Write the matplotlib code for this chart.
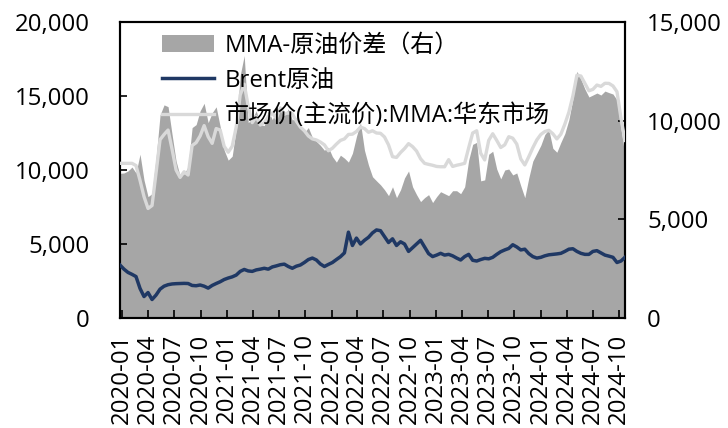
import matplotlib
matplotlib.use("Agg")
import matplotlib.pyplot as plt
import matplotlib.dates as mdates
from matplotlib.ticker import FuncFormatter, MultipleLocator
from matplotlib.patches import Patch
from matplotlib.lines import Line2D
import pandas as pd

plt.rcParams['font.family'] = ['Open Sans', 'Noto Sans CJK SC', 'DejaVu Sans']

# fortnightly observations, 2019-12-24 .. 2024-10-22
dates = pd.date_range('2019-12-24', periods=127, freq='14D')

# MMA - crude oil spread (right axis)
spread = [
    7330, 7350, 7450, 7650, 7350, 8300, 6990, 6150, 6300, 8100,
    10290, 10800, 10710, 9300, 7950, 7200, 7300, 7670, 9650, 9800,
    10500, 10880, 9900, 10400, 10700, 9700, 8500, 8000, 8200, 9600,
    12300, 13300, 9900, 10100, 10500, 9800, 9750, 10500, 10050, 10500,
    10750, 10250, 10600, 10030, 10150, 9700, 9400, 9650, 9150, 8950,
    8750, 8500, 8650, 8180, 7900, 8250, 8100, 7900, 8350, 9200,
    9900, 8500, 7750, 7160, 6950, 6750, 6500, 6200, 6650, 6100,
    6500, 7100, 7450, 6650, 6250, 5900, 6100, 6250, 5850, 6150,
    6400, 6300, 6200, 6450, 6450, 6300, 6650, 8000, 8800, 8900,
    6950, 7000, 8300, 8450, 7550, 7050, 7500, 7550, 7250, 7350,
    6700, 6100, 7100, 7950, 8350, 8750, 9300, 9550, 8600, 8400,
    8900, 9350, 10050, 11100, 12500, 12100, 11600, 11200, 11300, 11400,
    11300, 11500, 11420, 11350, 11050, 9600, 8200,
]

# Brent crude (left axis)
brent = [
    3580, 3300, 3080, 2950, 2800, 2000, 1450, 1720, 1250, 1550,
    1950, 2150, 2250, 2300, 2320, 2330, 2340, 2330, 2200, 2180,
    2230, 2150, 2020, 2200, 2330, 2450, 2600, 2700, 2780, 2900,
    3150, 3280, 3180, 3150, 3250, 3300, 3360, 3300, 3450, 3520,
    3600, 3640, 3480, 3360, 3500, 3580, 3750, 3950, 4050, 3920,
    3650, 3480, 3620, 3750, 3950, 4140, 4400, 5800, 4900, 5400,
    5000, 5250, 5450, 5750, 5950, 5900, 5500, 5100, 5350, 4900,
    5150, 5000, 4500, 4750, 5000, 5250, 4800, 4350, 4150, 4250,
    4370, 4250, 4300, 4200, 4050, 3920, 4150, 4300, 3900, 3850,
    3950, 4030, 4000, 4100, 4300, 4480, 4600, 4700, 4950, 4800,
    4600, 4650, 4350, 4150, 4050, 4100, 4200, 4270, 4300, 4330,
    4370, 4500, 4650, 4680, 4500, 4370, 4300, 4300, 4500, 4550,
    4400, 4250, 4180, 4100, 3750, 3850, 4100,
]

# MMA market price, East China (left axis)
mma = [
    10450, 10450, 10450, 10450, 10300, 9300, 8200, 7400, 7600, 9800,
    12050, 12400, 12700, 11400, 10000, 9500, 9880, 9660, 11650, 11850,
    12300, 13000, 12250, 11800, 12800, 12700, 11600, 11200, 11600, 12900,
    15070, 15800, 14300, 13200, 13600, 13040, 13200, 13600, 13850, 13500,
    14190, 13800, 13850, 13800, 13300, 12900, 12650, 12300, 12100, 12030,
    11890, 11700, 11300, 11470, 11750, 12000, 12100, 12400, 12420, 12600,
    12900, 12800, 12550, 12650, 12500, 12480, 12230, 11700, 10900, 10850,
    11180, 11450, 11780, 11580, 11280, 10760, 10450, 10380, 10320, 10240,
    10220, 10220, 10700, 10240, 10320, 10380, 10450, 11500, 12500, 12650,
    11130, 10680, 12000, 12450, 12000, 11520, 11700, 12250, 12150, 11750,
    10750, 10340, 10900, 11500, 12030, 12400, 12600, 12680, 12450, 12100,
    12420, 13100, 13900, 15000, 16400, 16350, 15850, 15350, 15450, 15740,
    15650, 15860, 15850, 15680, 15290, 13500, 12000,
]

quarter_ticks = pd.date_range('2020-01-01', '2024-10-01', freq='QS')

labels = ['MMA-原油价差（右）', 'Brent原油', '市场价(主流价):MMA:华东市场']
colors = ['#A6A6A6', '#1F3864', '#D9D9D9']

fig = plt.figure(figsize=(7.28, 4.28), dpi=100)
ax = fig.add_axes([0.1648, 0.257, 0.6937, 0.6916])
ax2 = ax.twinx()

ax2.fill_between(dates, 0, spread, color=colors[0], linewidth=0, zorder=1)
ax.plot(dates, mma, color=colors[2], linewidth=2.4, zorder=3)
ax.plot(dates, brent, color=colors[1], linewidth=2.5, zorder=4)

ax.set_zorder(ax2.get_zorder() + 1)
ax.patch.set_visible(False)

ax.set_xlim(pd.Timestamp('2019-12-24'), pd.Timestamp('2024-10-22'))
ax.set_ylim(0, 20000)
ax2.set_ylim(0, 15000)
ax.yaxis.set_major_locator(MultipleLocator(5000))
ax2.yaxis.set_major_locator(MultipleLocator(5000))
thousands = FuncFormatter(lambda v, p: f'{int(v):,}')
ax.yaxis.set_major_formatter(thousands)
ax2.yaxis.set_major_formatter(thousands)

ax.set_xticks(quarter_ticks)
ax.xaxis.set_major_formatter(mdates.DateFormatter('%Y-%m'))
for lbl in ax.get_xticklabels():
    lbl.set_rotation(90)

fs = 17.3
ax.tick_params(axis='y', direction='in', length=5, width=1.2, pad=22, labelsize=fs)
ax2.tick_params(axis='y', direction='in', length=5, width=1.2, pad=16, labelsize=fs)
ax.tick_params(axis='x', direction='in', length=6, width=1.2, pad=11, labelsize=fs)

for a in (ax, ax2):
    for s in a.spines.values():
        s.set_linewidth(1.5)
        s.set_color('black')

handles = [
    Patch(facecolor=colors[0], edgecolor='none'),
    Line2D([], [], color=colors[1], linewidth=2.5),
    Line2D([], [], color=colors[2], linewidth=2.4),
]
ax.legend(handles, labels, loc='upper left', bbox_to_anchor=(0.045, 1.025),
          frameon=False, fontsize=fs, handlelength=2.15, handletextpad=0.45,
          labelspacing=0.45, borderpad=0.3)

fig.savefig('out.png', dpi=100)
